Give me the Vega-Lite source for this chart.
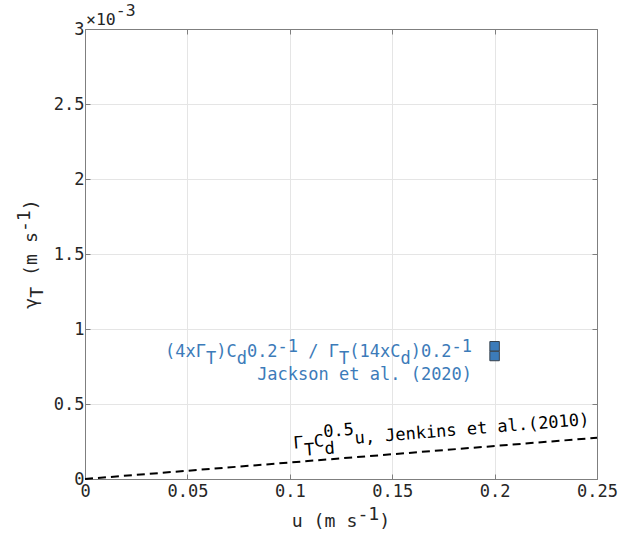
{
  "$schema": "https://vega.github.io/schema/vega-lite/v6.json",
  "width": 512,
  "height": 450,
  "autosize": {"type": "none"},
  "padding": {"left": 85, "top": 29, "right": 22, "bottom": 57},
  "background": "white",
  "config": {"view": {"stroke": null}, "font": "DejaVu Sans Mono"},
  "datasets": {
    "jenkins": [{"u": 0, "gamma_T": 0}, {"u": 0.25, "gamma_T": 0.000275}],
    "jackson": [{"u": 0.2, "gamma_T": 0.00082}, {"u": 0.2, "gamma_T": 0.000885}],
    "blue": [
      {"u": 0.189, "gamma_T": 0.000815, "main": "\u200b(4x\u0393\u00a0)C\u00a00.2\u00a0\u00a0\u00a0/\u00a0\u0393\u00a0(14xC\u00a0)0.2\u00a0\u00a0\u200b", "sub": "\u200b\u00a0\u00a0\u00a0\u00a0T\u00a0\u00a0d\u00a0\u00a0\u00a0\u00a0\u00a0\u00a0\u00a0\u00a0\u00a0T\u00a0\u00a0\u00a0\u00a0\u00a0d\u00a0\u00a0\u00a0\u00a0\u00a0\u00a0\u200b", "sup": "\u200b\u00a0\u00a0\u00a0\u00a0\u00a0\u00a0\u00a0\u00a0\u00a0\u00a0\u00a0-1\u00a0\u00a0\u00a0\u00a0\u00a0\u00a0\u00a0\u00a0\u00a0\u00a0\u00a0\u00a0\u00a0\u00a0\u00a0-1\u200b"},
      {"u": 0.189, "gamma_T": 0.000662, "main": "Jackson et al. (2020)", "sub": "", "sup": ""}
    ],
    "black": [
      {"u": 0.1, "gamma_T": 0.0002, "main": "\u200b\u0393\u00a0C\u00a0\u00a0\u00a0u,\u00a0Jenkins\u00a0et\u00a0al.(2010)\u200b", "sub": "\u200b\u00a0T\u00a0d\u200b", "sup": "\u200b\u00a0\u00a0\u00a00.5\u200b"}
    ],
    "exponent": [{"u": 0, "gamma_T": 0.003, "main": "\u200b\u00d710\u00a0\u00a0\u200b", "sup": "\u200b\u00a0\u00a0\u00a0-3\u200b"}],
    "xtitle": [{"u": 0.125, "gamma_T": 0, "main": "\u200bu\u00a0(m\u00a0s\u00a0\u00a0)\u200b", "sup": "\u200b\u00a0\u00a0\u00a0\u00a0\u00a0\u00a0-1\u00a0\u200b"}],
    "ytitle": [{"u": 0, "gamma_T": 0.0015, "main": "\u200b\u03b3\u00a0\u00a0(m\u00a0s\u00a0\u00a0)\u200b", "sub": "\u200b\u00a0T\u00a0\u00a0\u00a0\u00a0\u00a0\u00a0\u00a0\u00a0\u200b", "sup": "\u200b\u00a0\u00a0\u00a0\u00a0\u00a0\u00a0\u00a0-1\u00a0\u200b"}]
  },
  "encoding": {
    "x": {"field": "u", "type": "quantitative", "scale": {"domain": [0, 0.25], "nice": false, "zero": false}, "axis": null},
    "y": {"field": "gamma_T", "type": "quantitative", "scale": {"domain": [0, 0.003], "nice": false, "zero": false}, "axis": null}
  },
  "resolve": {"axis": {"x": "independent", "y": "independent"}},
  "layer": [
    {
      "data": {"name": "jenkins"},
      "mark": {"type": "line", "color": "black", "strokeWidth": 2, "strokeDash": [8, 5]},
      "encoding": {
        "x": {"field": "u", "type": "quantitative", "scale": {"domain": [0, 0.25], "nice": false, "zero": false},
          "axis": {"orient": "bottom", "values": [0, 0.05, 0.1, 0.15, 0.2, 0.25], "format": "~g", "title": null,
            "grid": true, "gridColor": "#e5e5e5", "tickSize": -5, "tickColor": "#7f7f7f", "domainColor": "#7f7f7f",
            "labelFont": "DejaVu Sans Mono", "labelFontSize": 17, "labelColor": "#262626", "labelPadding": 9,
            "labelFlush": false, "labelOverlap": false}},
        "y": {"field": "gamma_T", "type": "quantitative", "scale": {"domain": [0, 0.003], "nice": false, "zero": false},
          "axis": {"orient": "left", "values": [0, 0.0005, 0.001, 0.0015, 0.002, 0.0025, 0.003], "labelExpr": "format(datum.value*1000, '~g')", "title": null,
            "grid": true, "gridColor": "#e5e5e5", "tickSize": -5, "tickColor": "#7f7f7f", "domainColor": "#7f7f7f",
            "labelFont": "DejaVu Sans Mono", "labelFontSize": 17, "labelColor": "#262626", "labelPadding": 6,
            "labelFlush": false, "labelOverlap": false}}
      }
    },
    {
      "data": {"name": "jackson"},
      "mark": {"type": "point", "shape": "square", "filled": true, "size": 90, "fill": "#3c7bb9", "stroke": "#37424d", "strokeWidth": 1, "opacity": 1},
      "encoding": {
        "x": {"field": "u", "type": "quantitative", "scale": {"domain": [0, 0.25], "nice": false, "zero": false},
          "axis": {"orient": "top", "values": [0, 0.05, 0.1, 0.15, 0.2, 0.25], "labels": false, "title": null, "grid": false,
            "tickSize": -5, "tickColor": "#7f7f7f", "domainColor": "#7f7f7f"}},
        "y": {"field": "gamma_T", "type": "quantitative", "scale": {"domain": [0, 0.003], "nice": false, "zero": false},
          "axis": {"orient": "right", "values": [0, 0.0005, 0.001, 0.0015, 0.002, 0.0025, 0.003], "labels": false, "title": null, "grid": false,
            "tickSize": -5, "tickColor": "#7f7f7f", "domainColor": "#7f7f7f"}}
      }
    },
    {
      "data": {"name": "blue"},
      "mark": {"type": "text", "align": "right", "baseline": "alphabetic", "font": "DejaVu Sans Mono", "fontSize": 17, "color": "#3c7bb9"},
      "encoding": {"text": {"field": "main", "type": "nominal"}}
    },
    {
      "data": {"name": "blue"},
      "mark": {"type": "text", "align": "right", "baseline": "alphabetic", "font": "DejaVu Sans Mono", "fontSize": 17, "color": "#3c7bb9", "dy": 7},
      "encoding": {"text": {"field": "sub", "type": "nominal"}}
    },
    {
      "data": {"name": "blue"},
      "mark": {"type": "text", "align": "right", "baseline": "alphabetic", "font": "DejaVu Sans Mono", "fontSize": 17, "color": "#3c7bb9", "dy": -5},
      "encoding": {"text": {"field": "sup", "type": "nominal"}}
    },
    {
      "data": {"name": "black"},
      "mark": {"type": "text", "align": "left", "baseline": "alphabetic", "font": "DejaVu Sans Mono", "fontSize": 17, "color": "black", "angle": 355.4, "dx": 4},
      "encoding": {"text": {"field": "main", "type": "nominal"}}
    },
    {
      "data": {"name": "black"},
      "mark": {"type": "text", "align": "left", "baseline": "alphabetic", "font": "DejaVu Sans Mono", "fontSize": 17, "color": "black", "angle": 355.4, "dx": 4, "dy": 8},
      "encoding": {"text": {"field": "sub", "type": "nominal"}}
    },
    {
      "data": {"name": "black"},
      "mark": {"type": "text", "align": "left", "baseline": "alphabetic", "font": "DejaVu Sans Mono", "fontSize": 17, "color": "black", "angle": 355.4, "dx": 4, "dy": -9},
      "encoding": {"text": {"field": "sup", "type": "nominal"}}
    },
    {
      "data": {"name": "exponent"},
      "mark": {"type": "text", "align": "left", "baseline": "alphabetic", "font": "DejaVu Sans Mono", "fontSize": 16.5, "color": "#262626", "dx": 1, "dy": -4},
      "encoding": {"text": {"field": "main", "type": "nominal"}}
    },
    {
      "data": {"name": "exponent"},
      "mark": {"type": "text", "align": "left", "baseline": "alphabetic", "font": "DejaVu Sans Mono", "fontSize": 16.5, "color": "#262626", "dx": 1, "dy": -13},
      "encoding": {"text": {"field": "sup", "type": "nominal"}}
    },
    {
      "data": {"name": "xtitle"},
      "mark": {"type": "text", "align": "center", "baseline": "alphabetic", "font": "DejaVu Sans Mono", "fontSize": 18.2, "color": "#262626", "dy": 48},
      "encoding": {"text": {"field": "main", "type": "nominal"}}
    },
    {
      "data": {"name": "xtitle"},
      "mark": {"type": "text", "align": "center", "baseline": "alphabetic", "font": "DejaVu Sans Mono", "fontSize": 18.2, "color": "#262626", "dy": 41},
      "encoding": {"text": {"field": "sup", "type": "nominal"}}
    },
    {
      "data": {"name": "ytitle"},
      "mark": {"type": "text", "align": "center", "baseline": "alphabetic", "font": "DejaVu Sans Mono", "fontSize": 18.2, "color": "#262626", "angle": 270, "dy": -48},
      "encoding": {"text": {"field": "main", "type": "nominal"}}
    },
    {
      "data": {"name": "ytitle"},
      "mark": {"type": "text", "align": "center", "baseline": "alphabetic", "font": "DejaVu Sans Mono", "fontSize": 18.2, "color": "#262626", "angle": 270, "dy": -42},
      "encoding": {"text": {"field": "sub", "type": "nominal"}}
    },
    {
      "data": {"name": "ytitle"},
      "mark": {"type": "text", "align": "center", "baseline": "alphabetic", "font": "DejaVu Sans Mono", "fontSize": 18.2, "color": "#262626", "angle": 270, "dy": -55},
      "encoding": {"text": {"field": "sup", "type": "nominal"}}
    }
  ]
}
